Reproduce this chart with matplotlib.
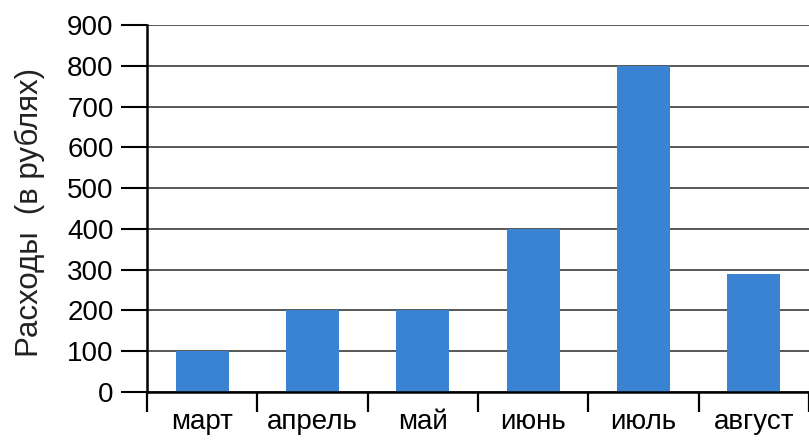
import numpy as np
import matplotlib.pyplot as plt
from matplotlib.ticker import FixedLocator

plt.rcParams['font.family'] = ['Liberation Sans', 'DejaVu Sans']

months = ['март', 'апрель', 'май', 'июнь', 'июль', 'август']
spend = [100, 200, 200, 400, 800, 290]
yticks = [0, 100, 200, 300, 400, 500, 600, 700, 800, 900]

bar_color = '#3a82d2'
fontsize = 20

fig = plt.figure(figsize=(8.09, 4.44), dpi=100)
ax = fig.add_axes([0.1817, 0.117, 0.8183, 0.8267])

x = np.arange(len(months)) + 0.5
ax.bar(x, spend, width=0.48, color=bar_color, zorder=3)

ax.set_xlim(0, len(months))
ax.set_ylim(0, 900)
ax.set_yticks(yticks)
ax.yaxis.grid(True, color='#4a4a4a', linewidth=1.3, zorder=1)

# category labels at centers, separator ticks at the borders
ax.set_xticks(x)
ax.set_xticklabels(months, fontsize=fontsize)
ax.xaxis.set_minor_locator(FixedLocator(np.arange(len(months) + 1)))
ax.tick_params(axis='x', which='major', length=0, pad=12)
ax.tick_params(axis='x', which='minor', length=14.5, width=1.6, color='black')
ax.tick_params(axis='y', length=19, width=1.5, pad=5, labelsize=fontsize, color='black')

for s in ['top', 'right']:
    ax.spines[s].set_visible(False)
ax.spines['left'].set_linewidth(1.8)
ax.spines['bottom'].set_linewidth(1.8)
ax.spines['left'].set_zorder(4)
ax.spines['bottom'].set_zorder(4)

ax.set_ylabel('Расходы  (в рублях)', fontsize=22.5, color='#222222')
ax.yaxis.set_label_coords(-0.154, 0.49)

fig.savefig('out.png', dpi=100)
